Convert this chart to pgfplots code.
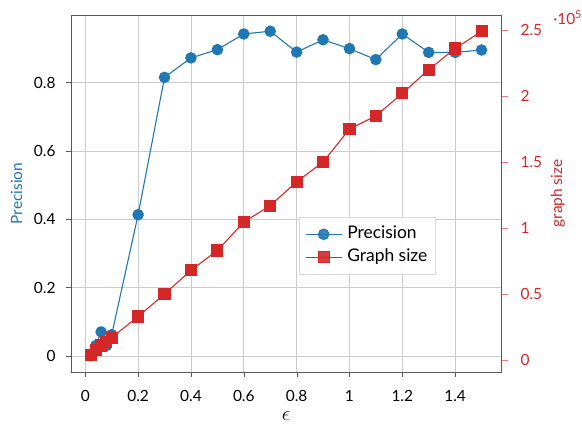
\documentclass[border=0pt]{standalone}
\usepackage{fontspec}
\setmainfont{Lato}
\usepackage{pgfplots}
\pgfplotsset{compat=1.18}
\usetikzlibrary{calc}
\definecolor{cblue}{HTML}{1F77B4}
\definecolor{cred}{HTML}{D62728}
\begin{document}
\begin{tikzpicture}[font=\fontsize{15.5}{18}\selectfont]
\begin{axis}[
  scale only axis, width=430bp, height=357bp,
  xmin=-0.054, xmax=1.574, ymin=-0.0475, ymax=0.9975,
  xtick={0,0.2,0.4,0.6,0.8,1,1.2,1.4},
  ytick={0,0.2,0.4,0.6,0.8},
  ytick pos=left, xtick pos=bottom,
  tick align=outside, major tick length=5bp,
  grid=major, grid style={gray!40, line width=0.6pt},
  axis line style={gray!70!black, line width=0.8pt},
  tick style={gray!70!black},
  /pgf/number format/assume math mode=true,
  xticklabel style={yshift=-10bp},
  yticklabel style={xshift=-7bp},
  every axis x label/.style={at={($(rel axis cs:0.5,0)+(0,-48bp)$)}, anchor=base, inner sep=0pt, text depth=8bp},
  every axis y label/.style={at={($(rel axis cs:0,0.5)+(-49bp,0)$)}, rotate=90, anchor=base, inner sep=0pt, text height=22bp, text=cblue},
  xlabel={\fontsize{20}{20}\selectfont$\epsilon$}, ylabel={Precision},
]
\addplot[cblue, line width=1.1pt, mark=*, mark size=5.2bp, mark options={solid, fill=cblue}] coordinates {
(0.02,0.0) (0.04,0.03) (0.06,0.07) (0.08,0.03) (0.1,0.062)
(0.2,0.413) (0.3,0.815) (0.4,0.872) (0.5,0.896) (0.6,0.942)
(0.7,0.950) (0.8,0.889) (0.9,0.925) (1.0,0.899) (1.1,0.867)
(1.2,0.942) (1.3,0.888) (1.4,0.888) (1.5,0.895)
};
\end{axis}
\begin{axis}[
  name=ax2,
  scale only axis, width=430bp, height=357bp,
  xmin=-0.054, xmax=1.574, ymin=-0.091, ymax=2.614,
  axis x line=none, axis y line*=right,
  axis line style={gray!70!black, line width=0.8pt},
  ytick={0,0.5,1,1.5,2,2.5},
  tick align=outside, major tick length=7bp,
  tick style={cred!60},
  yticklabel style={text=cred, xshift=9bp},
  /pgf/number format/assume math mode=true,
  every axis y label/.style={at={($(rel axis cs:1,0.5)+(61bp,0)$)}, rotate=90, anchor=base, inner sep=0pt, text=cred},
  ylabel={graph size},
  legend image code/.code={\draw[mark repeat=2,mark phase=2] plot coordinates {(0bp,0bp) (18bp,0bp) (36bp,0bp)};},
  legend style={at={(0.53,0.434)}, anchor=north west, draw=gray!30, fill=white, fill opacity=0.9, text opacity=1,
    font=\fontsize{17.5}{20}\selectfont, inner xsep=6bp, inner ysep=7bp, row sep=3bp,
    nodes={inner sep=2bp, text height=12.5bp, text depth=3.5bp},
    /tikz/every odd column/.append style={column sep=3bp}},
  legend cell align=left,
]
\addlegendimage{cblue, line width=1.1pt, mark=*, mark size=5.2bp, mark options={solid, fill=cblue}}
\addlegendentry{Precision}
\addplot[cred, line width=1.1pt, mark=square*, mark size=5.5bp, mark options={solid, fill=cred}] coordinates {
(0.02,0.04) (0.04,0.076) (0.06,0.11) (0.08,0.14) (0.1,0.17)
(0.2,0.33) (0.3,0.50) (0.4,0.68) (0.5,0.83) (0.6,1.045)
(0.7,1.17) (0.8,1.35) (0.9,1.50) (1.0,1.75) (1.1,1.85)
(1.2,2.02) (1.3,2.20) (1.4,2.36) (1.5,2.49)
};
\addlegendentry{Graph size}
\end{axis}
\node[anchor=base west, text=cred, inner sep=0pt, text height=24bp] at ($(ax2.north east)+(52bp,-9bp)$) {·10\textsuperscript{5}};
\end{tikzpicture}
\end{document}
